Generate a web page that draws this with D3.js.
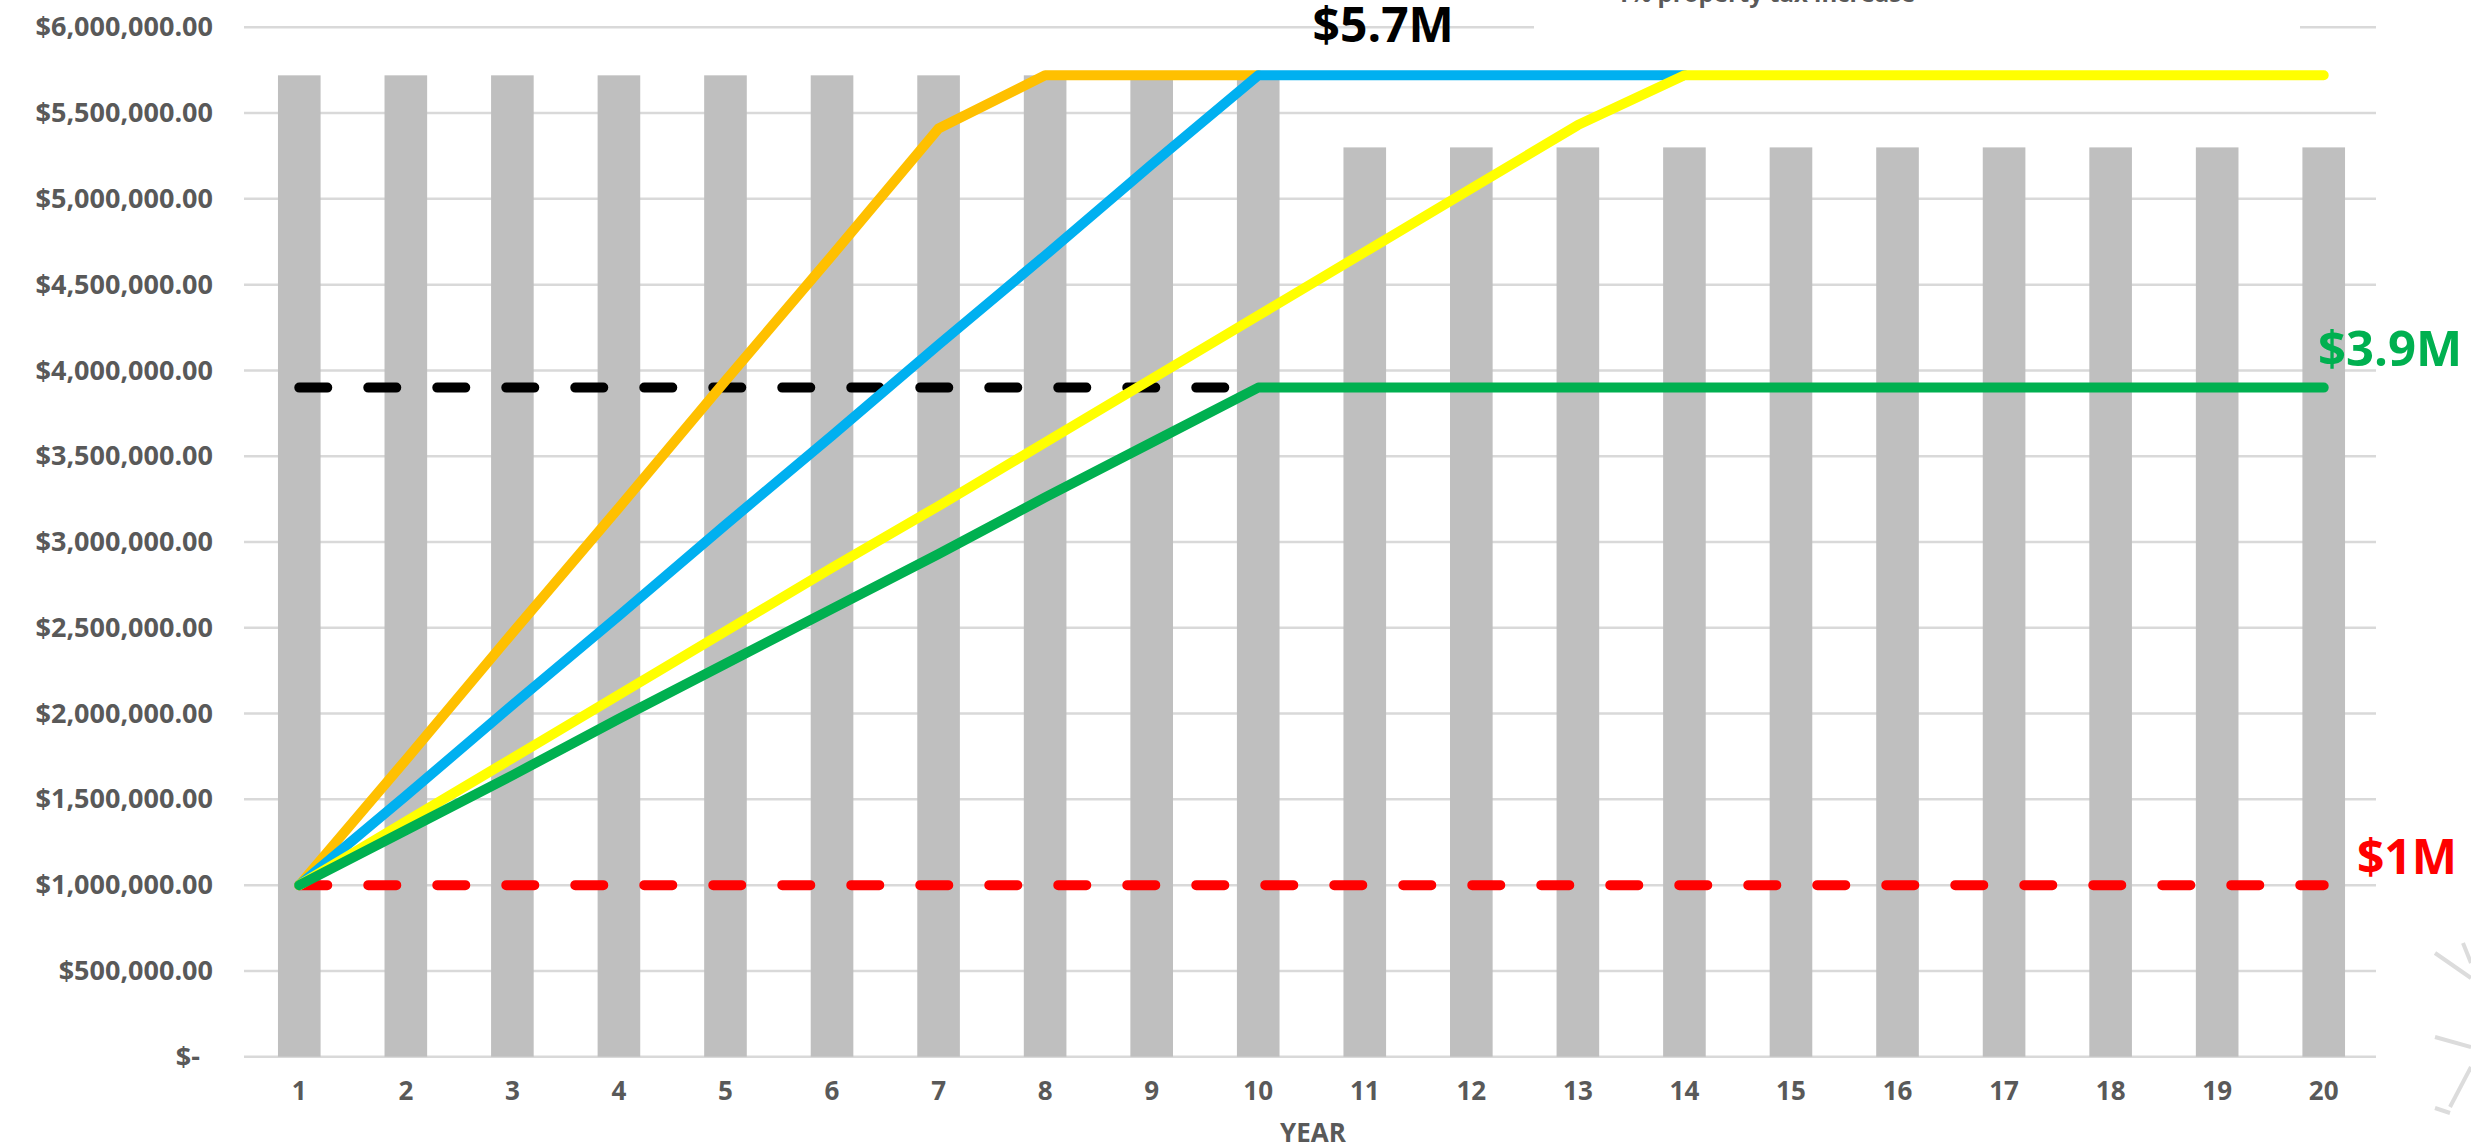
<!DOCTYPE html>
<html>
<head>
<meta charset="utf-8">
<script src="https://cdn.jsdelivr.net/npm/d3@7"></script>
<style>
  html, body { margin: 0; padding: 0; background: #ffffff; }
  svg { display: block; }
</style>
</head>
<body>
<svg id="chart" width="2471" height="1146"></svg>
<script>
// ---------- data ----------
const years = [1,2,3,4,5,6,7,8,9,10,11,12,13,14,15,16,17,18,19,20];
const barValues = [5720000,5720000,5720000,5720000,5720000,5720000,5720000,5720000,5720000,5720000,
                   5300000,5300000,5300000,5300000,5300000,5300000,5300000,5300000,5300000,5300000];
const orangeValues = [1000000,1730000,2470000,3200000,3940000,4670000,5410000,5720000,5720000,5720000];
const blueValues = [1000000,1520000,2050000,2570000,3100000,3620000,4150000,4670000,5200000,5720000,
                    5720000,5720000,5720000,5720000];
const yellowValues = [1000000,1370000,1740000,2110000,2480000,2850000,3210000,3580000,3950000,4320000,
                      4690000,5060000,5430000,5720000,5720000,5720000,5720000,5720000,5720000,5720000];
const greenValues = [1000000,1320000,1640000,1970000,2290000,2610000,2930000,3260000,3580000,3900000,
                     3900000,3900000,3900000,3900000,3900000,3900000,3900000,3900000,3900000,3900000];
const redDashValues = [1000000,1000000,1000000,1000000,1000000,1000000,1000000,1000000,1000000,1000000,
                       1000000,1000000,1000000,1000000,1000000,1000000,1000000,1000000,1000000,1000000];
const blackDashValues = [3900000,3900000,3900000,3900000,3900000,3900000,3900000,3900000,3900000,3900000];
const yTicks = [0,500000,1000000,1500000,2000000,2500000,3000000,3500000,4000000,4500000,5000000,5500000,6000000];
const xAxisTitle = "YEAR";
const legendText = "1% property tax increase";
const labels = [
  {text: "$5.7M", color: "#000000", year: 10, value: 5700000},
  {text: "$3.9M", color: "#00B050", year: 20, value: 3900000},
  {text: "$1M",   color: "#FF0000", year: 20, value: 1000000}
];

// ---------- layout ----------
const svg = d3.select("#chart");
const plotLeft = 244, plotRight = 2376, plotTop = 27.3, plotBottom = 1056.7;
const font = "'Open Sans', 'DejaVu Sans', sans-serif";

const x = d3.scaleBand().domain(years).range([246, 2377]).paddingInner(0.6).paddingOuter(0.3);
const y = d3.scaleLinear().domain([0, 6000000]).range([plotBottom, plotTop]);
const cx = d => x(d) + x.bandwidth() / 2;

// gridlines
svg.append("g").selectAll("line").data(yTicks).join("line")
  .attr("x1", plotLeft).attr("x2", plotRight)
  .attr("y1", d => y(d)).attr("y2", d => y(d))
  .attr("stroke", "#D9D9D9").attr("stroke-width", 2.5);

// legend box (white, partly off-canvas at top)
svg.append("rect").attr("x", 1534).attr("y", -40).attr("width", 766).attr("height", 80).attr("fill", "#ffffff");
svg.append("text").attr("x", 1616).attr("y", 2)
  .attr("font-family", font).attr("font-weight", 700).attr("font-size", 24)
  .attr("fill", "#595959").text(legendText);

// bars
svg.append("g").selectAll("rect").data(years).join("rect")
  .attr("x", d => x(d)).attr("width", x.bandwidth())
  .attr("y", (d, i) => y(barValues[i]))
  .attr("height", (d, i) => y(0) - y(barValues[i]))
  .attr("fill", "#BFBFBF");

// y axis
const yAxis = svg.append("g").attr("transform", `translate(${plotLeft},0)`)
  .call(d3.axisLeft(y).tickValues(yTicks).tickSize(0).tickPadding(31)
    .tickFormat(d => d === 0 ? "$-" : d3.format("$,.2f")(d)));
yAxis.select(".domain").remove();
yAxis.selectAll("text")
  .attr("font-family", font).attr("font-weight", 700).attr("font-size", 27)
  .attr("fill", "#595959")
  .attr("dx", d => d === 0 ? -13 : 0);

// x axis
const xAxis = svg.append("g").attr("transform", `translate(0,${plotBottom})`)
  .call(d3.axisBottom(x).tickSize(0));
xAxis.select(".domain").remove();
xAxis.selectAll("text")
  .attr("font-family", font).attr("font-weight", 700).attr("font-size", 26)
  .attr("fill", "#595959").attr("y", 43).attr("dy", 0);

svg.append("text").attr("x", 1313).attr("y", 1142).attr("text-anchor", "middle")
  .attr("font-family", font).attr("font-weight", 700).attr("font-size", 26)
  .attr("fill", "#595959").text(xAxisTitle);

// lines
const line = d3.line().x((d, i) => cx(years[i])).y(d => y(d));
function drawLine(values, color, dash) {
  const p = svg.append("path").datum(values)
    .attr("d", line).attr("fill", "none")
    .attr("stroke", color).attr("stroke-width", 10)
    .attr("stroke-linecap", "round").attr("stroke-linejoin", "round");
  if (dash) p.attr("stroke-dasharray", dash);
}
drawLine(redDashValues, "#FF0000", "28,41");
drawLine(blackDashValues, "#000000", "28,41");
drawLine(orangeValues, "#FFC000");
drawLine(blueValues, "#00B0F0");
drawLine(yellowValues, "#FFFF00");
drawLine(greenValues, "#00B050");

// value labels
svg.append("text").attr("x", cx(labels[0].year) + 125).attr("y", 42).attr("text-anchor", "middle")
  .attr("font-family", font).attr("font-weight", 700).attr("font-size", 48)
  .attr("fill", labels[0].color).text(labels[0].text);
svg.append("text").attr("x", 2390).attr("y", 366).attr("text-anchor", "middle")
  .attr("font-family", font).attr("font-weight", 700).attr("font-size", 49)
  .attr("fill", labels[1].color).text(labels[1].text);
svg.append("text").attr("x", 2407).attr("y", 874).attr("text-anchor", "middle")
  .attr("font-family", font).attr("font-weight", 700).attr("font-size", 48)
  .attr("fill", labels[2].color).text(labels[2].text);

// decorative corner graphic (bottom right)
const deco = svg.append("g").attr("stroke", "#DCDCDC").attr("stroke-width", 4).attr("fill", "none");
deco.append("line").attr("x1", 2435).attr("y1", 953).attr("x2", 2471).attr("y2", 978);
deco.append("line").attr("x1", 2463).attr("y1", 943).attr("x2", 2471).attr("y2", 963);
deco.append("line").attr("x1", 2435).attr("y1", 1037).attr("x2", 2471).attr("y2", 1047);
deco.append("line").attr("x1", 2450).attr("y1", 1107).attr("x2", 2471).attr("y2", 1067);
deco.append("line").attr("x1", 2435).attr("y1", 1108).attr("x2", 2450).attr("y2", 1113);
</script>
</body>
</html>
